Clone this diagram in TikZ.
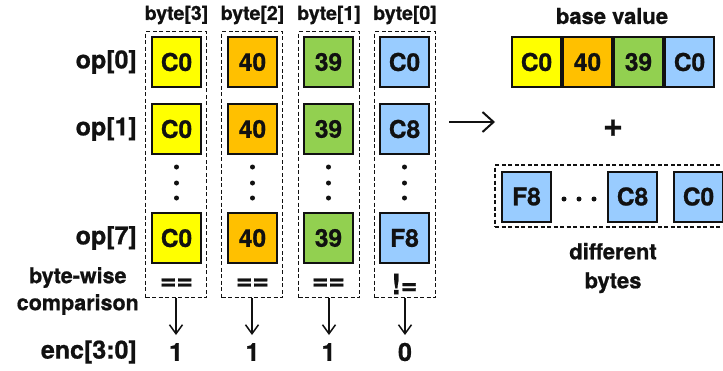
\documentclass[tikz,border=0pt]{standalone}
\usepackage{fontspec}
\setmainfont{TeX Gyre Heros}[BoldFeatures={FakeBold=0.8}]
\usetikzlibrary{arrows.meta}
\definecolor{cy}{RGB}{255,255,0}
\definecolor{co}{RGB}{255,192,0}
\definecolor{cg}{RGB}{146,208,80}
\definecolor{cb}{RGB}{153,204,255}
\definecolor{ink}{RGB}{17,17,17}
\begin{document}
\begin{tikzpicture}[x=1pt,y=-1pt,
  cell/.style={draw=ink, line width=2pt, minimum width=49pt, minimum height=50pt, inner sep=0pt, text=ink,
    font=\fontsize{24.5}{26}\bfseries\selectfont},
  col/.style={draw=ink, line width=1.4pt, dash pattern=on 4pt off 2.5pt, minimum width=61pt, minimum height=266pt, inner sep=0pt},
  hdr/.style={font=\fontsize{19.5}{21}\bfseries\selectfont, text=ink, inner sep=0pt},
  lbl/.style={font=\fontsize{25}{27}\bfseries\selectfont, text=ink, inner sep=0pt, anchor=east},
  big/.style={font=\fontsize{25}{27}\bfseries\selectfont, text=ink, inner sep=0pt},
  cmp/.style={font=\fontsize{28}{30}\bfseries\selectfont, text=ink, inner sep=0pt},
  mid/.style={font=\fontsize{21.5}{27}\bfseries\selectfont, text=ink, inner sep=0pt, align=center},
  dot/.style={circle, fill=ink, inner sep=0pt, minimum size=5pt},
  arr/.style={draw=ink, line width=1.5pt, -{Straight Barb[length=9pt,width=13pt,line width=1.5pt]}},
]
\clip (0,0) rectangle (723,370);
\fill[white] (0,0) rectangle (723,370);

% headers
\node[hdr] (h3) at (176.5,15) {byte[3]};
\node[hdr] (h2) at (252.5,15) {byte[2]};
\node[hdr] (h1) at (329,15) {byte[1]};
\node[hdr] (h0) at (405,15) {byte[0]};

% dashed columns
\node[col] (c3) at (176,164.5) {};
\node[col] (c2) at (252,164.5) {};
\node[col] (c1) at (329,164.5) {};
\node[col] (c0) at (405,164.5) {};

% row labels
\node[lbl] (l0) at (137,62) {op[0]};
\node[lbl] (l1) at (137,129) {op[1]};
\node[lbl] (l7) at (137,238) {op[7]};
\node[mid, anchor=east] (lc) at (139,291) {byte-wise\\comparison};
\node[lbl] (le) at (137,352) {enc[3:0]};

% row 0
\node[cell, fill=cy] (a3) at (176.5,62) {C0};
\node[cell, fill=co] (a2) at (252.5,62) {40};
\node[cell, fill=cg] (a1) at (328.5,62) {39};
\node[cell, fill=cb] (a0) at (404.5,62) {C0};
% row 1
\node[cell, fill=cy] (b3) at (176.5,129) {C0};
\node[cell, fill=co] (b2) at (252.5,129) {40};
\node[cell, fill=cg] (b1) at (328.5,129) {39};
\node[cell, fill=cb] (b0) at (404.5,129) {C8};
% row 7
\node[cell, fill=cy] (g3) at (176.5,238) {C0};
\node[cell, fill=co] (g2) at (252.5,238) {40};
\node[cell, fill=cg] (g1) at (328.5,238) {39};
\node[cell, fill=cb] (g0) at (404.5,238) {F8};

% vertical dots
\foreach \x/\n in {176.5/3,252.5/2,328.5/1,404.5/0}{
  \node[dot] (d\n a) at (\x,167) {};
  \node[dot] (d\n b) at (\x,183) {};
  \node[dot] (d\n c) at (\x,198) {};
}

% comparisons
\node[cmp] (q3) at (176.5,284) {==};
\node[cmp] (q2) at (252.5,284) {==};
\node[cmp] (q1) at (328.5,284) {==};
\node[cmp] (q0) at (404.5,284) {!=};

% enc values
\node[big] (e3) at (176,352) {1};
\node[big] (e2) at (252.5,352) {1};
\node[big] (e1) at (328.5,352) {1};
\node[big] (e0) at (405,352) {0};

\draw[arr] (c3.south) -- (176,335);
\draw[arr] (c2.south) -- (252,335);
\draw[arr] (c1.south) -- (329,335);
\draw[arr] (c0.south) -- (405,335);

% right arrow
\coordinate (ra) at (449,122);
\coordinate (rb) at (495,122);
\draw[draw=ink, line width=2pt, -{Straight Barb[length=11pt,width=20pt,line width=2pt]}] (ra) -- (rb);

% base value
\node[font=\fontsize{22}{24}\bfseries\selectfont, text=ink, inner sep=0pt] (bv) at (612,16) {base value};
\node[cell, fill=cy] (v3) at (536.5,62) {C0};
\node[cell, fill=co] (v2) at (587.5,62) {40};
\node[cell, fill=cg] (v1) at (638.5,62) {39};
\node[cell, fill=cb] (v0) at (689.5,62) {C0};

\node[font=\fontsize{34}{36}\bfseries\selectfont, text=ink, inner sep=0pt] (plus) at (613,128) {+};

% different bytes
\node[draw=ink, line width=1.4pt, dash pattern=on 4pt off 2.5pt, minimum width=244pt, minimum height=62pt, inner sep=0pt] (db) at (617,196) {};
\node[cell, fill=cb] (f8) at (526.5,196.5) {F8};
\node[cell, fill=cb] (f1) at (632.5,196.5) {C8};
\node[cell, fill=cb] (f0) at (698.5,196.5) {C0};
\node[dot] (hd1) at (564,199) {};
\node[dot] (hd2) at (579,199) {};
\node[dot] (hd3) at (594,199) {};
\node[mid, font=\fontsize{22}{29}\bfseries\selectfont] (dl) at (613,268) {different\\bytes};
\end{tikzpicture}
\end{document}
